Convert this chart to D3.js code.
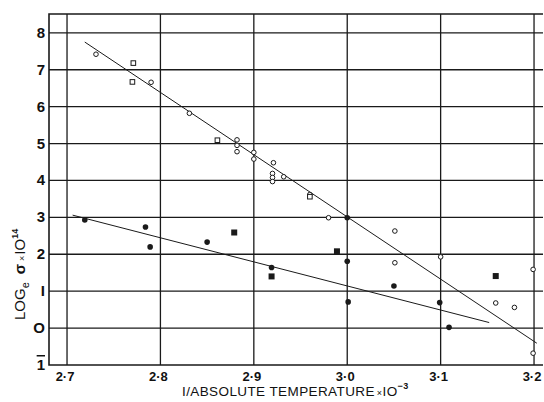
<!DOCTYPE html>
<meta charset="utf-8">
<script src="https://d3js.org/d3.v7.min.js"></script>
<style>
  body { margin: 0; background: #fff; }
  text { font-family: "Liberation Sans", Arial, sans-serif; fill: #111; }
</style>
<div id="chart"></div>
<script>
// axis ticks
var xTicks = [2.7, 2.8, 2.9, 3.0, 3.1, 3.2];
var xTickLabels = ["2·7", "2·8", "2·9", "3·0", "3·1", "3·2"];
var yTicks = [-1, 0, 1, 2, 3, 4, 5, 6, 7, 8];
var yTickLabels = ["1", "O", "I", "2", "3", "4", "5", "6", "7", "8"];  // -1 is written as bar-one

// open circles (upper series)
var openCircleX = [2.731, 2.790, 2.831, 2.882, 2.882, 2.882, 2.900, 2.900, 2.921, 2.920, 2.920, 2.920, 2.932, 2.960, 2.980, 3.051, 3.051, 3.100, 3.159, 3.179, 3.199, 3.199];
var openCircleY = [7.42, 6.66, 5.82, 5.10, 4.95, 4.78, 4.76, 4.58, 4.48, 4.19, 4.08, 3.97, 4.10, 3.62, 2.99, 2.63, 1.77, 1.93, 0.68, 0.56, 1.59, -0.68];
// open squares (upper series)
var openSquareX = [2.771, 2.770, 2.861, 2.960];
var openSquareY = [7.18, 6.67, 5.09, 3.56];
// filled circles (lower series)
var filledCircleX = [2.719, 2.784, 2.789, 2.850, 2.919, 3.000, 3.001, 3.000, 3.050, 3.099, 3.109];
var filledCircleY = [2.93, 2.74, 2.20, 2.33, 1.64, 1.81, 0.71, 2.99, 1.14, 0.69, 0.02];
// filled squares (lower series)
var filledSquareX = [2.879, 2.919, 2.989, 3.159];
var filledSquareY = [2.59, 1.40, 2.08, 1.41];

// fitted lines: [x1, y1, x2, y2]
var upperFit = [2.719, 7.75, 3.203, -0.41];
var lowerFit = [2.706, 3.06, 3.152, 0.15];

var W = 544, H = 402;
var plotLeft = 49, plotRight = 543, plotTop = 14, plotBottom = 365;

var svg = d3.select("#chart").append("svg")
    .attr("width", W).attr("height", H);

var x = d3.scaleLinear().domain([2.6807, 3.2096]).range([plotLeft, plotRight]);
var y = d3.scaleLinear().domain([-1, 8.51]).range([plotBottom, plotTop]);

var ink = "#1a1a1a";

// grid
svg.append("g").selectAll("line").data(xTicks).enter().append("line")
    .attr("x1", d => x(d)).attr("x2", d => x(d))
    .attr("y1", plotTop).attr("y2", plotBottom)
    .attr("stroke", ink).attr("stroke-width", 1.3);
svg.append("g").selectAll("line").data(yTicks.slice(1)).enter().append("line")
    .attr("x1", plotLeft).attr("x2", plotRight)
    .attr("y1", d => y(d)).attr("y2", d => y(d))
    .attr("stroke", ink).attr("stroke-width", 1.3);

// frame
svg.append("path")
    .attr("d", "M" + plotRight + "," + plotTop + "H" + plotLeft + "V" + plotBottom + "H" + plotRight)
    .attr("fill", "none").attr("stroke", ink).attr("stroke-width", 1.6);

// tick labels
svg.append("g").selectAll("text").data(yTicks).enter().append("text")
    .attr("x", 45).attr("y", d => y(d) + 5)
    .attr("text-anchor", "end")
    .attr("font-size", 15).attr("font-weight", "bold")
    .style("text-decoration", d => d < 0 ? "overline" : null)
    .text((d, i) => yTickLabels[i]);
svg.append("g").selectAll("text").data(xTicks).enter().append("text")
    .attr("x", d => x(d) - 2).attr("y", 381)
    .attr("text-anchor", "middle")
    .attr("font-size", 13).attr("font-weight", "bold")
    .text((d, i) => xTickLabels[i]);

// fitted lines
[upperFit, lowerFit].forEach(function (f) {
  svg.append("line")
      .attr("x1", x(f[0])).attr("y1", y(f[1]))
      .attr("x2", x(f[2])).attr("y2", y(f[3]))
      .attr("stroke", ink).attr("stroke-width", 1);
});

// markers
svg.append("g").selectAll("circle").data(openCircleX).enter().append("circle")
    .attr("cx", d => x(d)).attr("cy", (d, i) => y(openCircleY[i]))
    .attr("r", 2.3).attr("fill", "#fff").attr("stroke", ink).attr("stroke-width", 1);
svg.append("g").selectAll("rect").data(openSquareX).enter().append("rect")
    .attr("x", d => x(d) - 2.3).attr("y", (d, i) => y(openSquareY[i]) - 2.3)
    .attr("width", 4.6).attr("height", 4.6)
    .attr("fill", "#fff").attr("stroke", ink).attr("stroke-width", 1);
svg.append("g").selectAll("circle").data(filledCircleX).enter().append("circle")
    .attr("cx", d => x(d)).attr("cy", (d, i) => y(filledCircleY[i]))
    .attr("r", 2.8).attr("fill", ink);
svg.append("g").selectAll("rect").data(filledSquareX).enter().append("rect")
    .attr("x", d => x(d) - 3).attr("y", (d, i) => y(filledSquareY[i]) - 3)
    .attr("width", 6).attr("height", 6).attr("fill", ink);

// axis titles
var xt = svg.append("text").attr("x", 182).attr("y", 396)
    .attr("font-size", 13.5).attr("letter-spacing", 0.4);
xt.append("tspan").text("I/ABSOLUTE  TEMPERATURE");
xt.append("tspan").attr("font-size", 9).attr("dx", 2).text("×");
xt.append("tspan").text("IO");
xt.append("tspan").attr("font-size", 9).attr("dy", -7).attr("font-weight", "bold").text("−3");

var yt = svg.append("text")
    .attr("transform", "translate(25,320) rotate(-90)")
    .attr("font-size", 15);
yt.append("tspan").text("LOG");
yt.append("tspan").attr("font-size", 11).attr("dy", 4).text("e");
yt.append("tspan").attr("dx", 8).attr("dy", -4).attr("font-weight", "bold").text("σ");
yt.append("tspan").attr("font-size", 9).attr("dx", 3).text("×");
yt.append("tspan").attr("dx", 1).text("IO");
yt.append("tspan").attr("font-size", 9).attr("dy", -7).attr("font-weight", "bold").text("14");
</script>
